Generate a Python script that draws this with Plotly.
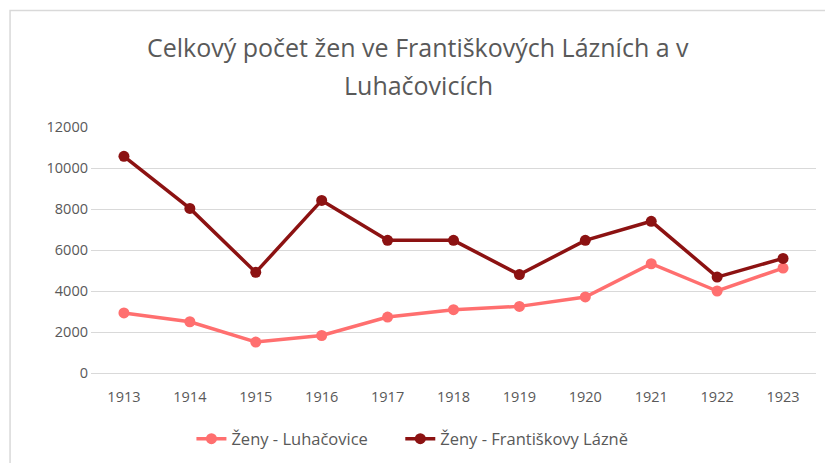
import plotly.graph_objects as go

years = ["1913", "1914", "1915", "1916", "1917", "1918", "1919", "1920", "1921", "1922", "1923"]
luhacovice = [2930, 2500, 1510, 1830, 2730, 3090, 3250, 3710, 5330, 4000, 5120]
frantiskovy = [10570, 8030, 4910, 8420, 6470, 6470, 4800, 6470, 7400, 4680, 5590]
y_ticks = [0, 2000, 4000, 6000, 8000, 10000, 12000]

title_lines = ["Celkový počet žen ve Františkových Lázních a v", "Luhačovicích"]
name_l = "Ženy - Luhačovice"
name_f = "Ženy - Františkovy Lázně"

FONT = "Open Sans"
GREY = "#595959"
LIGHT = "#FF6F6F"
DARK = "#8C1212"

fig = go.Figure()
fig.add_trace(go.Scatter(x=years, y=luhacovice, name=name_l, mode="lines+markers",
                         line=dict(color=LIGHT, width=3.5),
                         marker=dict(color=LIGHT, size=11), legend="legend"))
fig.add_trace(go.Scatter(x=years, y=frantiskovy, name=name_f, mode="lines+markers",
                         line=dict(color=DARK, width=3.5),
                         marker=dict(color=DARK, size=11), legend="legend2"))

L, R, T, B = 90.5, 9, 127, 90
W, H = 825, 463
pw, ph = W - L - R, H - T - B

def px_x(x):
    return (x - L) / pw

def px_y(y):
    return (H - B - y) / ph

annotations = [
    dict(text=title_lines[0], xref="paper", yref="paper", x=px_x(418), y=px_y(47),
         xanchor="center", yanchor="middle", showarrow=False,
         font=dict(family=FONT, size=25, color=GREY)),
    dict(text=title_lines[1], xref="paper", yref="paper", x=px_x(418), y=px_y(85),
         xanchor="center", yanchor="middle", showarrow=False,
         font=dict(family=FONT, size=25, color=GREY)),
]

legend_common = dict(orientation="h", xanchor="left", xref="paper", yanchor="middle",
                     font=dict(family=FONT, size=16.5, color=GREY), bgcolor="rgba(0,0,0,0)")

fig.update_layout(
    width=W, height=H,
    margin=dict(l=L, r=R, t=T, b=B, pad=0, autoexpand=False),
    paper_bgcolor="white", plot_bgcolor="white",
    font=dict(family=FONT, color=GREY, size=14),
    xaxis=dict(type="category", range=[-0.5, 10.5], showgrid=False,
               showline=True, linecolor="#d9d9d9", linewidth=1,
               ticks="", ticklabelstandoff=11,
               tickfont=dict(family=FONT, size=14.5, color=GREY),
               zeroline=False, fixedrange=True, automargin=False),
    yaxis=dict(range=[0, 12000], tickvals=y_ticks, ticktext=[str(v) for v in y_ticks],
               showgrid=True, gridcolor="#d9d9d9", gridwidth=1,
               zeroline=False, showline=False, ticks="", ticklabelstandoff=2,
               tickfont=dict(family=FONT, size=14.5, color=GREY), fixedrange=True,
               automargin=False),
    legend=dict(x=px_x(191), y=px_y(439), **legend_common),
    legend2=dict(x=px_x(400), y=px_y(439), **legend_common),
    showlegend=True,
    annotations=annotations,
    shapes=[dict(type="rect", xref="paper", yref="paper",
                 x0=px_x(9.5), x1=px_x(840), y0=px_y(480), y1=px_y(10.5),
                 line=dict(color="#d9d9d9", width=1.5), fillcolor="rgba(0,0,0,0)",
                 layer="below")],
)

fig.write_html("out.html", config={"displayModeBar": False},
               post_script="document.body.style.margin='0';document.body.style.overflow='hidden';")
